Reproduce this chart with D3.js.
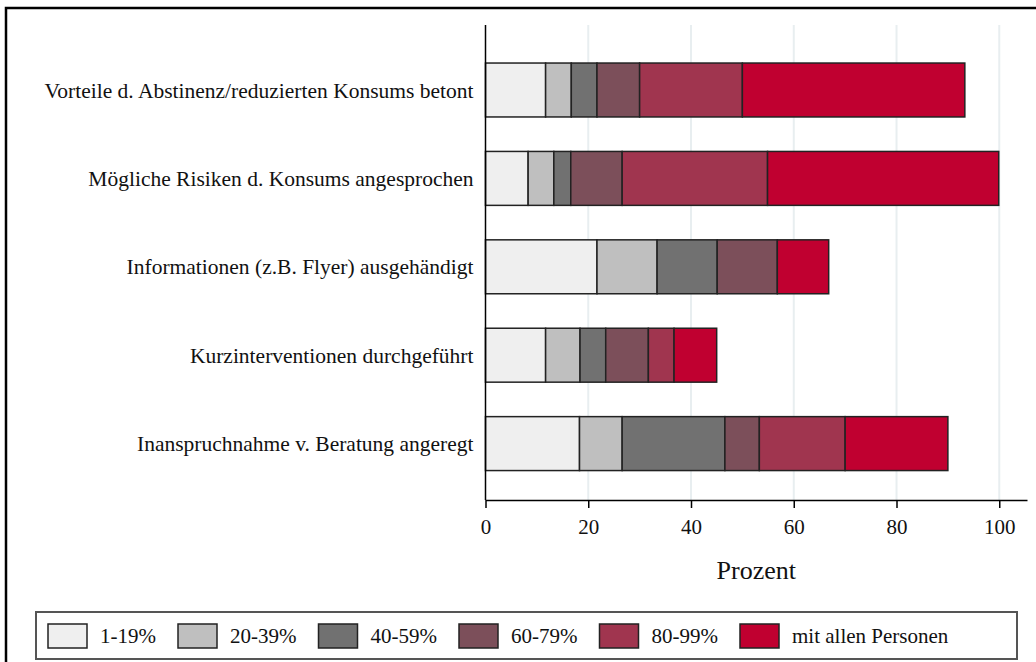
<!DOCTYPE html>
<html>
<head>
<meta charset="utf-8">
<script src="https://cdn.jsdelivr.net/npm/d3@7"></script>
<style>
  html, body { margin: 0; padding: 0; background: #fff; }
  svg { display: block; font-family: "Liberation Serif", "Times New Roman", serif; }
</style>
</head>
<body>
<svg id="chart" width="1036" height="662"></svg>
<script>
// categories, top to bottom
const categories = [
  "Vorteile d. Abstinenz/reduzierten Konsums betont",
  "Mögliche Risiken d. Konsums angesprochen",
  "Informationen (z.B. Flyer) ausgehändigt",
  "Kurzinterventionen durchgeführt",
  "Inanspruchnahme v. Beratung angeregt"
];

const seriesNames = ["1-19%", "20-39%", "40-59%", "60-79%", "80-99%", "mit allen Personen"];
const seriesColors = ["#efefef", "#bfbfbf", "#717171", "#7c4f5a", "#a0354f", "#c00030"];

// percent values per series (same order as categories)
const s1to19 = [11.7, 8.3, 21.7, 11.7, 18.3];
const s20to39 = [5.0, 5.0, 11.7, 6.7, 8.3];
const s40to59 = [5.0, 3.3, 11.7, 5.0, 20.0];
const s60to79 = [8.3, 10.0, 11.7, 8.3, 6.7];
const s80to99 = [20.0, 28.3, 0, 5.0, 16.7];
const sAlle = [43.3, 45.0, 10.0, 8.3, 20.0];

const xTicks = [0, 20, 40, 60, 80, 100];

const seriesValues = [s1to19, s20to39, s40to59, s60to79, s80to99, sAlle];
const rows = categories.map((c, i) => {
  let r = { cat: c };
  seriesNames.forEach((s, j) => (r[s] = seriesValues[j][i]));
  return r;
});

const svg = d3.select("#chart");

// outer frame (runs off the right and bottom edge)
svg.append("rect")
  .attr("x", 6).attr("y", 8)
  .attr("width", 1100).attr("height", 720)
  .attr("fill", "none")
  .attr("stroke", "#000")
  .attr("stroke-width", 2.5);

const x = d3.scaleLinear().domain([0, 105.4]).range([485.5, 1027]);
const y = d3.scaleBand()
  .domain(categories)
  .range([45.8, 487.8])
  .paddingInner(0.39)
  .paddingOuter(0.195);

const plotTop = 25;
const plotBottom = 500;

// grid lines
svg.append("g")
  .selectAll("line")
  .data(xTicks.filter((d) => d > 0))
  .join("line")
  .attr("x1", (d) => x(d)).attr("x2", (d) => x(d))
  .attr("y1", plotTop).attr("y2", plotBottom)
  .attr("stroke", "#e8eef0")
  .attr("stroke-width", 2);

// stacked bars
const stacked = d3.stack().keys(seriesNames)(rows);

svg.append("g")
  .selectAll("g")
  .data(stacked)
  .join("g")
  .attr("fill", (d, i) => seriesColors[i])
  .selectAll("rect")
  .data((d) => d.filter((p) => p[1] - p[0] > 0))
  .join("rect")
  .attr("x", (p) => x(p[0]))
  .attr("width", (p) => x(p[1]) - x(p[0]))
  .attr("y", (p) => y(p.data.cat))
  .attr("height", y.bandwidth())
  .attr("stroke", "#222")
  .attr("stroke-width", 1.5);

// y axis line and category labels
svg.append("line")
  .attr("x1", x(0)).attr("x2", x(0))
  .attr("y1", plotTop).attr("y2", plotBottom)
  .attr("stroke", "#000")
  .attr("stroke-width", 1.5);

svg.append("g")
  .selectAll("text")
  .data(categories)
  .join("text")
  .attr("x", x(0) - 12)
  .attr("y", (d) => y(d) + y.bandwidth() / 2)
  .attr("dy", "0.35em")
  .attr("text-anchor", "end")
  .attr("font-size", 21.5)
  .attr("fill", "#111")
  .text((d) => d);

// x axis
const xAxis = svg.append("g")
  .attr("transform", `translate(0,${plotBottom})`)
  .call(d3.axisBottom(x).tickValues(xTicks).tickSize(8).tickPadding(11).tickSizeOuter(0));
xAxis.select(".domain").attr("stroke", "#000").attr("stroke-width", 1.5);
xAxis.selectAll(".tick line").attr("stroke", "#000").attr("stroke-width", 1.5);
xAxis.selectAll(".tick text")
  .attr("font-family", "Liberation Serif, Times New Roman, serif")
  .attr("font-size", 21)
  .attr("fill", "#111");

svg.append("text")
  .attr("x", (x(0) + x.range()[1]) / 2)
  .attr("y", 579)
  .attr("text-anchor", "middle")
  .attr("font-size", 26)
  .attr("fill", "#111")
  .text("Prozent");

// legend
svg.append("rect")
  .attr("x", 36).attr("y", 612)
  .attr("width", 981).attr("height", 47)
  .attr("fill", "#fff")
  .attr("stroke", "#555")
  .attr("stroke-width", 2);

const legend = svg.append("g");
let lx = 48;
seriesNames.forEach((name, i) => {
  legend.append("rect")
    .attr("x", lx).attr("y", 624)
    .attr("width", 39).attr("height", 24)
    .attr("fill", seriesColors[i])
    .attr("stroke", "#222")
    .attr("stroke-width", 1.5);
  const t = legend.append("text")
    .attr("x", lx + 52).attr("y", 636)
    .attr("dy", "0.35em")
    .attr("font-size", 21)
    .attr("fill", "#111")
    .text(name);
  lx += 52 + t.node().getComputedTextLength() + 22;
});
</script>
</body>
</html>
